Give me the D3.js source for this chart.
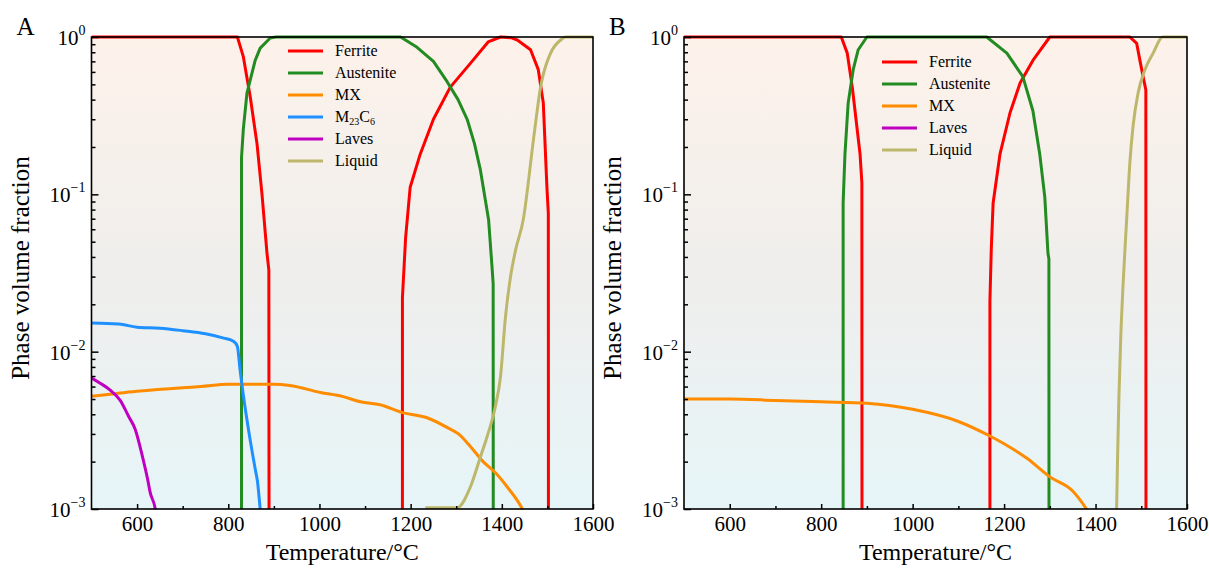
<!DOCTYPE html>
<html>
<head>
<meta charset="utf-8">
<script src="https://cdn.jsdelivr.net/npm/d3@7"></script>
<style>
  body { margin: 0; background: #fff; }
  svg { font-family: "Liberation Serif", "Times New Roman", serif; }
</style>
</head>
<body>
<svg id="chart" width="1209" height="568"></svg>
<script>
// temperature (°C) and phase volume fraction
// panel A
const ferriteA = [[500,1],[820,1],[833,0.75],[848,0.42],[863,0.21],[874,0.10],[885,0.042],[889,0.033],[890,1e-5],
  [1182,1e-5],[1182,0.022],[1189,0.053],[1199,0.111],[1221,0.18],[1250,0.30],[1287,0.48],[1331,0.68],[1370,0.93],[1397,1],
  [1420,0.99],[1434,0.957],[1463,0.83],[1480,0.62],[1491,0.38],[1499,0.11],[1502,0.076],[1502.5,1e-5]];
const austeniteA = [[829,1e-5],[829,0.17],[833,0.26],[841,0.44],[848,0.53],[859,0.71],[870,0.85],[892,0.985],[905,1],
  [1178,1],[1214,0.86],[1250,0.7],[1280,0.52],[1304,0.4],[1324,0.30],[1340,0.21],[1353,0.143],[1371,0.069],[1379,0.033],[1381,0.027],[1381.5,1e-5]];
const mxA = [[500,0.0052],[600,0.0056],[700,0.0059],[740,0.006],[800,0.0062],[900,0.0062],[935,0.0061],[1002,0.0055],
  [1050,0.0052],[1090,0.0048],[1133,0.0046],[1182,0.0041],[1236,0.0038],[1280,0.0033],[1305,0.0030],[1331,0.0025],
  [1359,0.0020],[1386,0.0017],[1412,0.00138],[1445,0.001],[1460,0.0008]];
const m23c6A = [[500,0.0152],[560,0.015],[600,0.0143],[650,0.0141],[700,0.0136],[750,0.013],[790,0.0122],[812,0.0116],
  [820,0.0108],[826,0.0076],[833,0.0053],[848,0.00275],[859,0.0018],[864,0.0015],[870,0.001],[875,0.0007]];
const lavesA = [[500,0.0068],[519,0.0063],[541,0.0057],[563,0.0049],[581,0.0039],[596,0.0032],[611,0.0022],[624,0.0015],
  [628,0.0013],[640,0.001],[645,0.0008]];
const liquidA = [[1232,0.00102],[1302,0.00102],[1331,0.00138],[1353,0.00214],[1368,0.0029],[1386,0.0045],[1397,0.0069],
  [1408,0.0166],[1419,0.0298],[1430,0.044],[1447,0.069],[1470,0.23],[1485,0.48],[1507,0.79],[1529,0.957],[1540,1],[1600,1]];

// panel B
const ferriteB = [[500,1],[844,1],[857,0.79],[868,0.48],[878,0.27],[885,0.18],[889,0.118],[889.5,1e-5],
  [1169,1e-5],[1169,0.021],[1172,0.045],[1176,0.088],[1191,0.18],[1213,0.33],[1235,0.51],[1263,0.71],[1300,1],
  [1475,1],[1490,0.91],[1497,0.71],[1504,0.56],[1510,0.46],[1510.5,1e-5]];
const austeniteB = [[848,1e-5],[848,0.088],[852,0.18],[859,0.38],[870,0.62],[881,0.83],[900,1],
  [1162,1],[1206,0.79],[1241,0.56],[1263,0.34],[1278,0.18],[1289,0.096],[1296,0.042],[1298,0.039],[1298.5,1e-5]];
const mxB = [[500,0.005],[600,0.005],[700,0.0049],[800,0.0048],[900,0.0047],[1000,0.0043],[1100,0.0036],[1170,0.0029],
  [1200,0.0026],[1250,0.0021],[1300,0.0016],[1350,0.0013],[1380,0.001],[1400,0.0008]];
const lavesB = [];
const liquidB = [[1444,0.0008],[1446,0.001],[1448,0.002],[1451,0.005],[1455,0.012],[1460,0.026],[1468,0.069],[1475,0.158],
  [1482,0.27],[1493,0.44],[1508,0.62],[1526,0.79],[1547,1],[1600,1]];

const xTicks = [600, 800, 1000, 1200, 1400, 1600];
const xMinor = [700, 900, 1100, 1300, 1500];
const yTicks = [1e-3, 1e-2, 1e-1, 1];
const yExp = ["\u22123", "\u22122", "\u22121", "0"];

const colors = {Ferrite: "#ff0000", Austenite: "#228b22", MX: "#ff8c00", M23C6: "#1e90ff", Laves: "#c000c0", Liquid: "#bdb76b"};

const panels = [
  {id: "A", left: 91.5, right: 593, series: [["Ferrite", ferriteA], ["Austenite", austeniteA], ["MX", mxA],
     ["M23C6", m23c6A], ["Laves", lavesA], ["Liquid", liquidA]], legX: 288, legY: 51},
  {id: "B", left: 684, right: 1187, series: [["Ferrite", ferriteB], ["Austenite", austeniteB], ["MX", mxB],
     ["Laves", lavesB], ["Liquid", liquidB]], legX: 882, legY: 62}
];

const plotTop = 37, plotBottom = 509;
const svg = d3.select("#chart");
const defs = svg.append("defs");

let grad = defs.append("linearGradient").attr("id", "bg").attr("x1", 0).attr("y1", 0).attr("x2", 0).attr("y2", 1);
grad.append("stop").attr("offset", "0%").attr("stop-color", "#fdf2ea");
grad.append("stop").attr("offset", "50%").attr("stop-color", "#efeeec");
grad.append("stop").attr("offset", "100%").attr("stop-color", "#e6f5f8");

panels.forEach(p => {
  const x = d3.scaleLinear().domain([500, 1600]).range([p.left, p.right]);
  const y = d3.scaleLog().domain([1e-3, 1]).range([plotBottom, plotTop]);
  const g = svg.append("g");

  g.append("rect").attr("x", p.left).attr("y", plotTop).attr("width", p.right - p.left).attr("height", plotBottom - plotTop)
    .attr("fill", "url(#bg)");

  defs.append("clipPath").attr("id", "clip" + p.id).append("rect")
    .attr("x", p.left).attr("y", plotTop - 2).attr("width", p.right - p.left).attr("height", plotBottom - plotTop + 2);

  const lines = g.append("g").attr("clip-path", "url(#clip" + p.id + ")");
  p.series.forEach(([name, data]) => {
    if (!data.length) return;
    // smooth only where temperature keeps rising (no vertical drops)
    const rising = data.every((d, i) => i == 0 || d[0] > data[i - 1][0]);
    const line = d3.line().x(d => x(d[0])).y(d => y(d[1]))
      .curve(rising ? d3.curveMonotoneX : d3.curveLinear);
    lines.append("path").datum(data).attr("d", line)
      .attr("fill", "none").attr("stroke", colors[name]).attr("stroke-width", 3).attr("stroke-linejoin", "round");
  });

  // x axis
  const xa = g.append("g").attr("transform", `translate(0,${plotBottom})`)
    .call(d3.axisBottom(x).tickValues(xTicks).tickSize(-5).tickPadding(7).tickFormat(d3.format("d")));
  g.append("g").attr("transform", `translate(0,${plotBottom})`)
    .call(d3.axisBottom(x).tickValues(xMinor).tickSize(-3).tickFormat(""));
  // y axis
  const minor = [];
  [1e-3, 1e-2, 1e-1].forEach(b => { for (let k = 2; k <= 9; k++) minor.push(b * k); });
  g.append("g").attr("transform", `translate(${p.left},0)`)
    .call(d3.axisLeft(y).tickValues(yTicks).tickSize(-7).tickFormat(""));
  g.append("g").attr("transform", `translate(${p.left},0)`)
    .call(d3.axisLeft(y).tickValues(minor).tickSize(-4).tickFormat(""));
  g.selectAll(".domain").remove();
  g.selectAll(".tick line").attr("stroke", "#000").attr("stroke-width", 1.5);
  xa.selectAll("text").attr("font-size", 21).attr("font-family", "Liberation Serif").attr("fill", "#000");

  yTicks.forEach((v, i) => {
    const t = g.append("text").attr("x", p.left - 6).attr("y", y(v) + 8).attr("text-anchor", "end")
      .attr("font-size", 21).attr("fill", "#000");
    t.append("tspan").text("10");
    t.append("tspan").attr("dy", -10).attr("font-size", 14).text(yExp[i]);
  });

  g.append("rect").attr("x", p.left).attr("y", plotTop).attr("width", p.right - p.left).attr("height", plotBottom - plotTop)
    .attr("fill", "none").attr("stroke", "#000").attr("stroke-width", 1.6);

  // titles
  g.append("text").attr("x", (p.left + p.right) / 2).attr("y", 560).attr("text-anchor", "middle")
    .attr("font-size", 24).text("Temperature/\u00b0C");
  g.append("text").attr("transform", `translate(${p.left - 63},${268}) rotate(-90)`)
    .attr("text-anchor", "middle").attr("font-size", 25).text("Phase volume fraction");
  g.append("text").attr("x", p.left - 75).attr("y", 35).attr("font-size", 25).text(p.id);

  // legend
  p.series.forEach(([name], i) => {
    const ly = p.legY + i * 22;
    g.append("line").attr("x1", p.legX).attr("x2", p.legX + 35).attr("y1", ly).attr("y2", ly)
      .attr("stroke", colors[name]).attr("stroke-width", 3);
    const t = g.append("text").attr("x", p.legX + 47).attr("y", ly + 5).attr("font-size", 16).attr("fill", "#000");
    if (name === "M23C6") {
      t.append("tspan").text("M");
      t.append("tspan").attr("font-size", 10).attr("dy", 3).text("23");
      t.append("tspan").attr("dy", -3).text("C");
      t.append("tspan").attr("font-size", 10).attr("dy", 3).text("6");
    } else {
      t.text(name);
    }
  });
});
</script>
</body>
</html>
